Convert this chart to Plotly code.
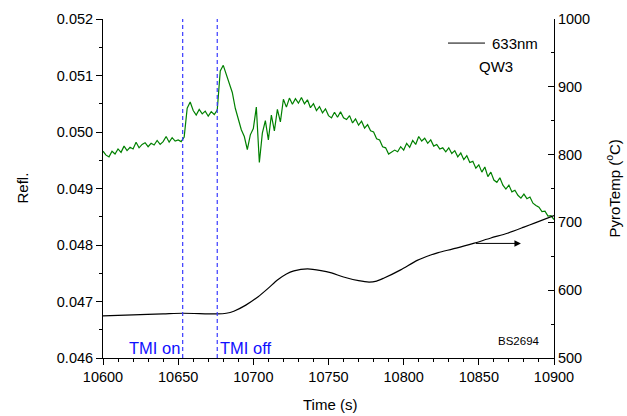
import plotly.graph_objects as go

# ---------------- data ----------------
refl_time = list(range(10600, 10901, 2))
refl = [
    0.04966, 0.04959, 0.04956, 0.04966, 0.04961, 0.04970, 0.04964, 0.04975, 0.04967, 0.04973,
    0.04970, 0.04982, 0.04972, 0.04978, 0.04981, 0.04974, 0.04980, 0.04977, 0.04985, 0.04978,
    0.04983, 0.04992, 0.04982, 0.04990, 0.04984, 0.04986, 0.04983, 0.04991, 0.05042, 0.05053,
    0.05038, 0.05030, 0.05040, 0.05032, 0.05037, 0.05028, 0.05036, 0.05031, 0.05039, 0.05108,
    0.05118, 0.05102, 0.05083, 0.05070, 0.05042, 0.05023, 0.05004, 0.04992, 0.04969, 0.04995,
    0.05006, 0.05044, 0.04946, 0.04998, 0.05020, 0.04986, 0.05030, 0.05002, 0.05040, 0.05018,
    0.05058, 0.05044, 0.05060, 0.05049, 0.05059, 0.05051, 0.05061, 0.05050, 0.05057, 0.05043,
    0.05050, 0.05038, 0.05045, 0.05034, 0.05041, 0.05029, 0.05025, 0.05035, 0.05026, 0.05036,
    0.05025, 0.05022, 0.05029, 0.05016, 0.05023, 0.05012, 0.05019, 0.05007, 0.05013, 0.05002,
    0.05000, 0.04988, 0.04986, 0.04974, 0.04972, 0.04961, 0.04965, 0.04968, 0.04965, 0.04974,
    0.04968, 0.04980, 0.04973, 0.04985, 0.04978, 0.04992, 0.04984, 0.04989, 0.04980, 0.04986,
    0.04975, 0.04978, 0.04970, 0.04972, 0.04965, 0.04972, 0.04962, 0.04967, 0.04956, 0.04963,
    0.04951, 0.04958, 0.04946, 0.04948, 0.04936, 0.04942, 0.04929, 0.04938, 0.04921, 0.04929,
    0.04915, 0.04911, 0.04919, 0.04906, 0.04899, 0.04906, 0.04894, 0.04897, 0.04888, 0.04883,
    0.04890, 0.04882, 0.04885, 0.04874, 0.04870, 0.04867, 0.04859, 0.04860, 0.04851, 0.04852,
    0.04845,
]

pyro_time = [10600, 10620, 10640, 10653, 10676, 10682, 10687, 10695, 10703, 10710,
             10716, 10722, 10727, 10736, 10745, 10752, 10760, 10770, 10777, 10782,
             10787, 10798, 10809, 10818, 10823, 10835, 10847, 10858, 10869, 10880,
             10887, 10900]
pyro_temp = [562, 563.5, 565, 566, 565, 566, 569, 578, 590, 603,
             615, 624, 628.5, 631.5, 629, 625.5, 619.5, 614, 612, 613.5,
             618, 630, 644, 652, 655.5, 662, 669.5, 677, 684, 693,
             699, 710]

tmi_times = [10653, 10676]
tmi_labels = ["TMI on", "TMI off"]
arrow_from = (10847, 669)
arrow_to = (10878, 669)

FONT = "Liberation Sans, Arial, sans-serif"

fig = go.Figure()
fig.add_trace(go.Scatter(x=refl_time, y=refl, mode="lines",
                         line=dict(color="#008000", width=1.2), showlegend=False))
fig.add_trace(go.Scatter(x=pyro_time, y=pyro_temp, mode="lines", yaxis="y2",
                         line=dict(color="black", width=1.2, shape="spline", smoothing=0.8),
                         showlegend=False))

for t in tmi_times:
    fig.add_shape(type="line", xref="x", yref="paper", x0=t, x1=t, y0=0, y1=1,
                  line=dict(color="#3a3aff", width=1.2, dash="4px,3px"))

fig.add_annotation(x=tmi_times[0], y=0.03, xref="x", yref="paper", text=tmi_labels[0],
                   xanchor="right", yanchor="middle", showarrow=False, xshift=-1,
                   font=dict(family=FONT, size=16.5, color="#1010ff"))
fig.add_annotation(x=tmi_times[1], y=0.03, xref="x", yref="paper", text=tmi_labels[1],
                   xanchor="left", yanchor="middle", showarrow=False, xshift=1,
                   font=dict(family=FONT, size=16.5, color="#1010ff"))

# arrow pointing to right axis
fig.add_annotation(x=arrow_to[0], y=arrow_to[1], xref="x", yref="y2",
                   ax=arrow_from[0], ay=arrow_from[1], axref="x", ayref="y2",
                   showarrow=True, arrowhead=2, arrowsize=1.3, arrowwidth=1,
                   arrowcolor="black", text="")

# legend-like block
fig.add_shape(type="line", xref="paper", yref="paper", x0=0.765, x1=0.847,
              y0=0.929, y1=0.929, line=dict(color="black", width=1))
fig.add_annotation(x=0.858, y=0.929, xref="paper", yref="paper", text="633nm",
                   xanchor="left", yanchor="middle", showarrow=False,
                   font=dict(family=FONT, size=15, color="black"))
fig.add_annotation(x=0.871, y=0.8585, xref="paper", yref="paper", text="QW3",
                   xanchor="center", yanchor="middle", showarrow=False,
                   font=dict(family=FONT, size=15, color="black"))
fig.add_annotation(x=0.9235, y=0.051, xref="paper", yref="paper", text="BS2694",
                   xanchor="center", yanchor="middle", showarrow=False,
                   font=dict(family=FONT, size=11.5, color="black"))

# axis titles
fig.add_annotation(x=-0.1796, y=0.5, xref="paper", yref="paper", text="Refl.",
                   textangle=-90, showarrow=False, xanchor="center", yanchor="middle",
                   font=dict(family=FONT, size=15, color="black"))
fig.add_annotation(x=1.1308, y=0.5, xref="paper", yref="paper",
                   text="PyroTemp (<sup>o</sup>C)",
                   textangle=-90, showarrow=False, xanchor="center", yanchor="middle",
                   font=dict(family=FONT, size=15, color="black"))
fig.add_annotation(x=0.503, y=-0.1376, xref="paper", yref="paper", text="Time (s)",
                   showarrow=False, xanchor="center", yanchor="middle",
                   font=dict(family=FONT, size=15, color="black"))

tickfont = dict(family=FONT, size=14.5, color="black")
fig.update_layout(
    width=627, height=416,
    margin=dict(l=103, r=73, t=19, b=58, autoexpand=False),
    paper_bgcolor="white", plot_bgcolor="white",
    showlegend=False,
    xaxis=dict(range=[10600, 10900], dtick=50, tick0=10600, tickformat="d",
               ticks="outside", ticklen=6, automargin=False,
               tickwidth=1, tickcolor="black", showline=True, linecolor="black",
               linewidth=1, showgrid=False, zeroline=False, tickfont=tickfont,
               minor=dict(dtick=10, ticks="outside", ticklen=3, tickcolor="black",
                          showgrid=False)),
    xaxis2=dict(range=[10600, 10900], overlaying="x", side="top", anchor="y",
                matches="x", dtick=50, tick0=10600, ticks="inside", ticklen=6,
                automargin=False,
                tickcolor="black", showline=True, linecolor="black", linewidth=1,
                showticklabels=False, showgrid=False, zeroline=False,
                minor=dict(dtick=10, ticks="inside", ticklen=3, tickcolor="black",
                           showgrid=False)),
    yaxis=dict(range=[0.046, 0.052], dtick=0.001, tick0=0.046, tickformat=".3f",
               ticks="outside", ticklen=6, tickcolor="black", showline=True,
               automargin=False,
               linecolor="black", linewidth=1, showgrid=False, zeroline=False,
               tickfont=tickfont,
               minor=dict(dtick=0.0005, ticks="outside", ticklen=3, tickcolor="black",
                          showgrid=False)),
    yaxis2=dict(range=[500, 1000], dtick=100, tick0=500, overlaying="y", side="right",
                anchor="x", ticks="inside", ticklen=6, tickcolor="black", showline=True,
                automargin=False,
                linecolor="black", linewidth=1, showgrid=False, zeroline=False,
                tickfont=tickfont,
                minor=dict(dtick=50, ticks="inside", ticklen=3, tickcolor="black",
                           showgrid=False)),
)

fig.write_html("out.html", config={"displayModeBar": False},
               post_script="document.body.style.margin='0';document.body.style.padding='0';")
